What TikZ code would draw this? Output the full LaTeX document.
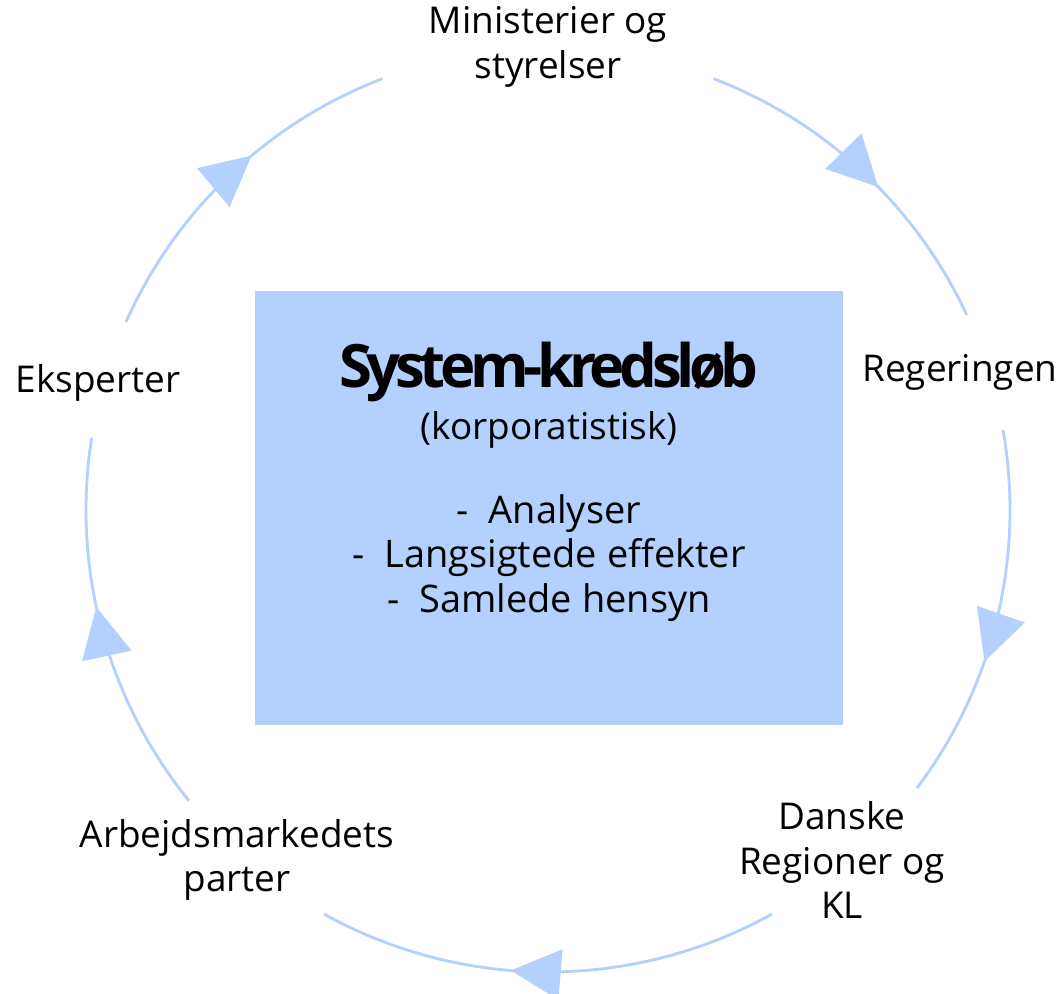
\documentclass[tikz,border=0pt]{standalone}
\usepackage{fontspec}
\setmainfont{Open Sans}
\newfontfamily\titlefont[LetterSpace=-9]{Open Sans}
\usetikzlibrary{arrows.meta,decorations.markings}
\definecolor{cycleblue}{RGB}{179,208,255}
\tikzset{
  label/.style={align=center,font=\fontsize{10.5}{12.6}\selectfont,inner sep=0pt},
  cyclearc/.style={draw=cycleblue,line width=0.8pt,
    decoration={markings,mark=at position #1 with {\arrow{Triangle[length=0.5cm,width=0.5cm,fill=cycleblue,color=cycleblue]}}},
    postaction={decorate}},
  cyclearc/.default=0.56
}
\begin{document}
\begin{tikzpicture}[x=0.01cm,y=0.01cm]
  \useasboundingbox (0,0) rectangle (1063,994);
  \coordinate (c) at (548,484);
  % box in the middle
  \node[fill=cycleblue,minimum width=5.88cm,minimum height=4.34cm,inner sep=0pt] (box) at (549,486) {};
  \node[font=\titlefont\bfseries\fontsize{17}{20}\selectfont,inner sep=0pt] (title) at (549,622) {System-kredsløb};
  \node[label] (sub) at (549,564) {(korporatistisk)};
  \node[label,font=\fontsize{10.8}{12.6}\selectfont] (points) at (549,436) {-~~Analyser\\
    -~~Langsigtede effekter\\-~~Samlede hensyn};
  % actors round the cycle
  \node[label] (min) at (548,947) {Ministerier og\\styrelser};
  \node[label] (reg) at (960,622) {Regeringen};
  \node[label] (dr) at (842,134) {Danske\\Regioner og\\KL};
  \node[label] (arb) at (237,134) {Arbejdsmarkedets\\parter};
  \node[label] (eks) at (98,611) {Eksperter};
  % arcs
  \draw[cyclearc] (c) ++(69:462) arc[start angle=69,end angle=25,radius=462];
  \draw[cyclearc=0.62] (c) ++(10:462) arc[start angle=10,end angle=-37,radius=462];
  \draw[cyclearc=0.58] (c) ++(-61:462) arc[start angle=-61,end angle=-119,radius=462];
  \draw[cyclearc] (c) ++(-141:462) arc[start angle=-141,end angle=-189,radius=462];
  \draw[cyclearc=0.58] (c) ++(156:462) arc[start angle=156,end angle=111,radius=462];
\end{tikzpicture}
\end{document}
